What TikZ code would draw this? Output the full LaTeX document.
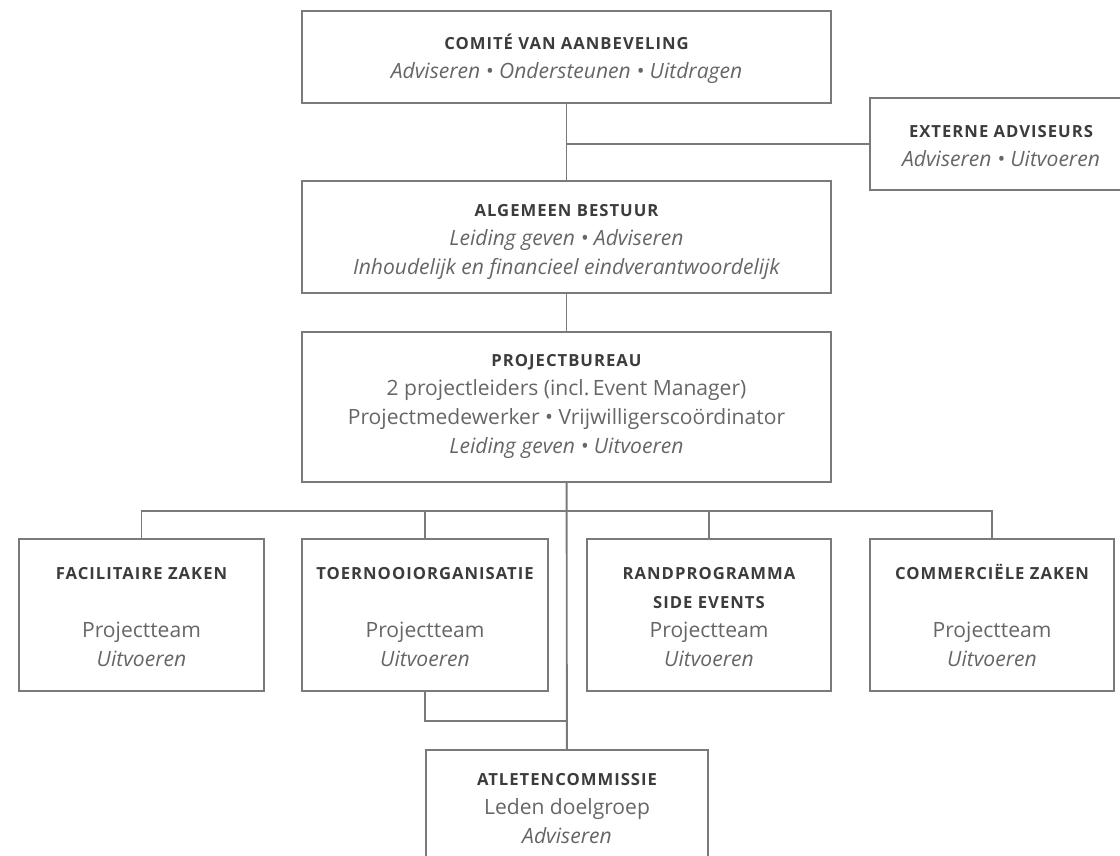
\documentclass[tikz,border=0pt]{standalone}
\usepackage{fontspec}
\setmainfont{Open Sans}
\usetikzlibrary{calc}
\frenchspacing

\definecolor{linegray}{HTML}{7A7A7A}
\definecolor{titlegray}{HTML}{3C3C3C}
\definecolor{textgray}{HTML}{666666}

\newcommand{\ttl}[1]{{\color{titlegray}\fontsize{12.5}{21.75}\selectfont\bfseries\addfontfeatures{LetterSpace=6}#1}}
\newcommand{\gap}{\\[21.75pt]}

\tikzset{
  unit/.style={draw=linegray, line width=1.4pt, inner sep=0pt, minimum height=152*0.75pt},
  bw/.style={minimum width=#1*0.75pt},
  bh/.style={minimum height=#1*0.75pt},
  txt/.style={anchor=base, align=center, inner sep=0pt, text=textgray,
    font=\fontsize{15.8}{21.75}\selectfont},
  link/.style={draw=linegray, line width=1.4pt},
}

\begin{document}
\begin{tikzpicture}[x=0.75pt, y=-0.75pt]
\useasboundingbox (0,0) rectangle (1120,856);
\clip (0,0) rectangle (1120,856);
\node[unit, bw=529, bh=92] (comite) at (566.5,57) {};
\node[unit, bw=262, bh=92] (extern) at (1001,144) {};
\node[unit, bw=529, bh=112] (bestuur) at (566.5,237) {};
\node[unit, bw=529, bh=150] (bureau) at (566.5,407) {};
\node[unit, bw=245] (facil) at (141.5,615) {};
\node[unit, bw=246] (toern) at (425,615) {};
\node[unit, bw=244] (rand) at (709,615) {};
\node[unit, bw=244] (comm) at (992,615) {};
\node[unit, bw=282, bh=150] (atleten) at (567,825) {};
% texts, placed at the baseline of the last line
\node[txt] (comite-t) at (566.5,79) {\ttl{COMITÉ VAN AANBEVELING}\\ \itshape Adviseren • Ondersteunen • Uitdragen};
\node[txt] (extern-t) at (1001,166) {\ttl{EXTERNE ADVISEURS}\\ \itshape Adviseren • Uitvoeren};
\node[txt] (bestuur-t) at (566.5,274) {\ttl{ALGEMEEN BESTUUR}\\ \itshape Leiding geven • Adviseren\\ \itshape Inhoudelijk en financieel eindverantwoordelijk};
\node[txt] (bureau-t) at (566.5,453) {\ttl{PROJECTBUREAU}\\ 2 projectleiders (incl.\,Event Manager)\\ Projectmedewerker • Vrijwilligerscoördinator\\ \itshape Leiding geven • Uitvoeren};
\node[txt] (facil-t) at (141.5,666) {\ttl{FACILITAIRE ZAKEN}\gap Projectteam\\ \itshape Uitvoeren};
\node[txt] (toern-t) at (425,666) {\ttl{TOERNOOIORGANISATIE}\gap Projectteam\\ \itshape Uitvoeren};
\node[txt] (rand-t) at (709,666) {\ttl{RANDPROGRAMMA}\\ \ttl{SIDE EVENTS}\\ Projectteam\\ \itshape Uitvoeren};
\node[txt] (comm-t) at (992,666) {\ttl{COMMERCIËLE ZAKEN}\gap Projectteam\\ \itshape Uitvoeren};
\node[txt] (atleten-t) at (567,843) {\ttl{ATLETENCOMMISSIE}\\ Leden doelgroep\\ \itshape Adviseren};
\coordinate (bus) at (566.5,511);
\coordinate (join) at (566.5,721);
\draw[link] (comite) to (bestuur);
\draw[link] (extern.west) to (extern.west -| comite.south);
\draw[link] (bestuur) to (bureau);
\draw[link] (bureau) to (atleten);
\draw[link] (facil.north) |- (bus) -| (comm.north);
\draw[link] (toern.north) to (toern.north |- bus);
\draw[link] (rand.north) to (rand.north |- bus);
\draw[link] (toern.south) |- (join);
\end{tikzpicture}
\end{document}
